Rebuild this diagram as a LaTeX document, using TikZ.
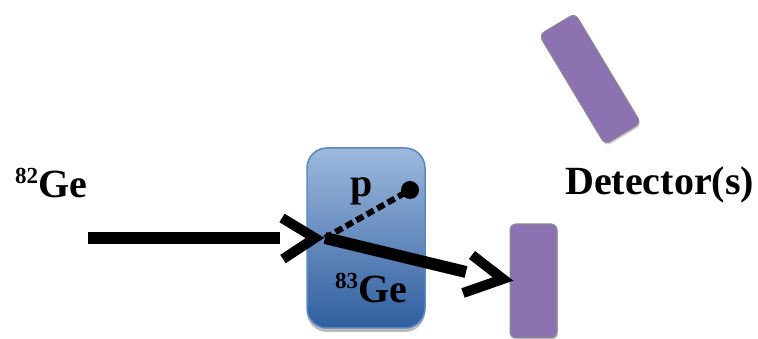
\documentclass[tikz,border=0pt]{standalone}
\usepackage{fontspec}
\setmainfont{Liberation Serif}
\usetikzlibrary{shadows}
\definecolor{targettop}{HTML}{9DB9DD}
\definecolor{targetbot}{HTML}{2F5E9F}
\definecolor{targetedge}{HTML}{5B87C2}
\definecolor{detcol}{HTML}{8D72B1}
\tikzset{
  big/.style={font=\fontsize{40}{40}\selectfont\bfseries, inner sep=0pt},
  target/.style={draw=targetedge, line width=1.5pt, rounded corners=20pt,
    top color=targettop, bottom color=targetbot,
    drop shadow={shadow xshift=0pt, shadow yshift=-4pt, fill=black!60, opacity=.45},
    minimum width=118pt, minimum height=180pt, inner sep=0pt},
  detector/.style={draw=black!45, line width=1pt, fill=detcol, rounded corners=6pt,
    drop shadow={shadow xshift=1pt, shadow yshift=-2pt, fill=black!50, opacity=.35},
    inner sep=0pt},
  beam/.style={line width=12pt},
  barb/.style={line width=10pt, line join=miter},
}
\newcommand{\iso}[2]{{\fontsize{23}{23}\selectfont\raisebox{14pt}{#1}}#2}
\begin{document}
\begin{tikzpicture}[x=1pt, y=1pt]
  \useasboundingbox (0,0) rectangle (758,339);

  \node[target] (tgt) at (366,101) {};
  \node[detector, minimum width=47pt, minimum height=114pt] (det1) at (533.5,58) {};
  \node[detector, minimum width=42pt, minimum height=128pt, rotate=31] (det2) at (590,260) {};

  \node[big, anchor=base west] (beamlab) at (15,141) {\iso{82}{Ge}};
  \node[big, anchor=base west] (detlab) at (565,144) {Detector(s)};
  \node[big, anchor=base west] (plab) at (350,142) {p};
  \node[big, anchor=base west] (reslab) at (335,36) {\iso{83}{Ge}};

  \coordinate (src) at (88,101);
  \coordinate (shaftend) at (280,101);
  \coordinate (hit) at (325,101);
  \coordinate (tipa) at (315,101);
  \coordinate (out) at (466,67);
  \coordinate (tipb) at (503,60);
  \coordinate (proton) at (410,149);

  \draw[beam] (src) -- (shaftend);
  \draw[barb] (282,121) -- (tipa) -- (283,80);
  \draw[beam] (hit) -- (out);
  \draw[barb] (472,84) -- (tipb) -- (463,46);
  \draw[line width=6pt, dash pattern=on 8pt off 4pt] (hit) -- (proton);
  \fill (proton) circle (9pt);
\end{tikzpicture}
\end{document}
